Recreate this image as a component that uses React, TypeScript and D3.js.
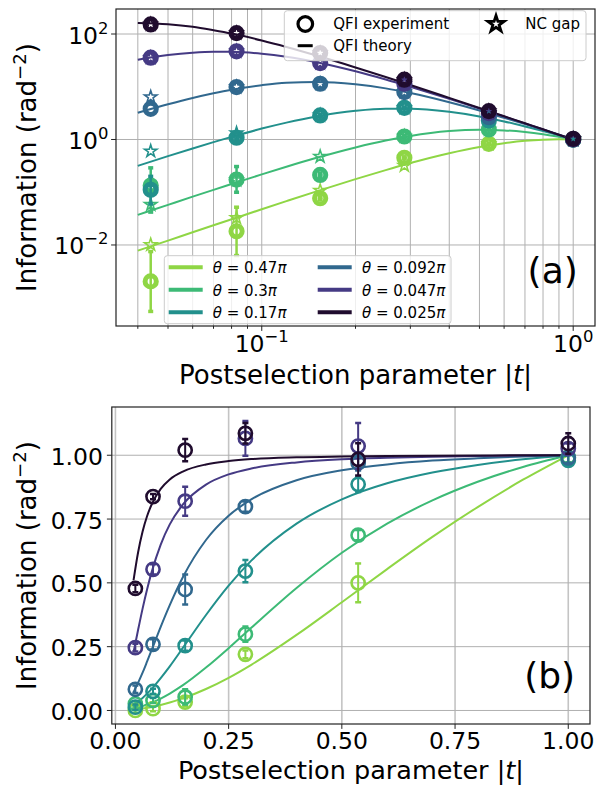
import React from 'react';
import * as d3 from 'd3';

const FONT = 'DejaVu Sans';

// theta values (in units of pi) and colours, light to dark
const thetaLabels = ['0.47', '0.3', '0.17', '0.092', '0.047', '0.025'];
const seriesColors = ['#8fd645', '#3dba76', '#22908c', '#31688e', '#453a84', '#200c2e'];

// postselection parameter |t|
const tTheory = [0.04, 0.05, 0.06, 0.07, 0.08, 0.1, 0.12, 0.15, 0.2, 0.25, 0.3, 0.4, 0.5, 0.6, 0.7, 0.8, 0.9, 1.0];
const tExp = [0.044, 0.083, 0.154, 0.287, 0.536, 1.0];

// panel (a): QFI theory, log scale
const topTheory047 = [0.0078, 0.0121, 0.0174, 0.0236, 0.0307, 0.0476, 0.0678, 0.104, 0.177, 0.263, 0.357, 0.548, 0.719, 0.852, 0.943, 0.992, 1.009, 1.0];
const topTheory030 = [0.0372, 0.0577, 0.0825, 0.111, 0.143, 0.218, 0.304, 0.449, 0.707, 0.956, 1.168, 1.442, 1.527, 1.488, 1.384, 1.255, 1.123, 1.0];
const topTheory017 = [0.316, 0.483, 0.676, 0.89, 1.12, 1.61, 2.09, 2.74, 3.5, 3.83, 3.83, 3.35, 2.74, 2.2, 1.77, 1.45, 1.2, 1.0];
const topTheory0092 = [3.22, 4.65, 6.12, 7.51, 8.78, 10.7, 11.9, 12.3, 11.1, 9.31, 7.59, 5.08, 3.55, 2.58, 1.96, 1.53, 1.22, 1.0];
const topTheory0047 = [32.4, 39.8, 44.2, 46.1, 45.9, 42.2, 36.9, 29.1, 19.6, 13.7, 9.98, 5.91, 3.87, 2.72, 2.02, 1.55, 1.23, 1.0];
const topTheory0025 = [162, 153, 137, 118, 102, 75.3, 56.8, 39.0, 23.2, 15.3, 10.8, 6.15, 3.96, 2.76, 2.03, 1.56, 1.23, 1.0];

// panel (a): QFI experiment
const topExp047 = [0.00204, 0.0182, 0.0769, 0.449, 0.828, 1.0];
const topExp030 = [0.134, 0.174, 0.213, 1.14, 1.55, 1.0];
const topExp017 = [0.111, 1.08, 2.86, 3.99, 2.3, 1.0];
const topExp0092 = [3.82, 9.86, 11.4, 7.92, 2.65, 1.0];
const topExp0047 = [35.5, 46.9, 28.1, 11.4, 3.16, 1.0];
const topExp0025 = [152, 104, 43.6, 13.6, 3.45, 1.03];

// panel (a): error bar ends (low / high)
const topLo047 = [0.00055, 0.0063, 0.072, 0.43, 0.8, 0.97];
const topHi047 = [0.0075, 0.052, 0.082, 0.47, 0.86, 1.03];
const topLo030 = [0.042, 0.1, 0.2, 1.1, 1.5, 0.97];
const topHi030 = [0.29, 0.307, 0.226, 1.18, 1.6, 1.03];
const topLo017 = [0.06, 1.0, 2.75, 3.85, 2.22, 0.97];
const topHi017 = [0.2, 1.16, 2.97, 4.13, 2.38, 1.03];

// panel (a): NC gap
const gap047 = [0.0101, 0.0326, 0.108, 0.321, 0.828, 1.0];
const gap030 = [0.0583, 0.17, 0.475, 1.14, 1.55, 1.0];
const gap017 = [0.6, 1.32, 2.86, 3.99, 2.3, 1.0];
const gap0092 = [6.37, 9.86, 11.4, 7.92, 2.65, 1.0];
const gap0047 = [35.5, 46.9, 28.1, 11.4, 3.16, 1.0];
const gap0025 = [152, 104, 43.6, 13.6, 3.45, 1.03];

// panel (b): theory, linear scale
const botTheory047 = [0.0035, 0.0055, 0.0079, 0.0108, 0.014, 0.0218, 0.0312, 0.0484, 0.0842, 0.128, 0.179, 0.296, 0.424, 0.554, 0.68, 0.797, 0.904, 1.0];
const botTheory030 = [0.0077, 0.012, 0.0172, 0.0233, 0.0303, 0.0467, 0.0662, 0.1, 0.168, 0.244, 0.324, 0.48, 0.618, 0.732, 0.823, 0.896, 0.954, 1.0];
const botTheory017 = [0.0225, 0.0347, 0.0493, 0.066, 0.0847, 0.127, 0.173, 0.248, 0.374, 0.489, 0.587, 0.732, 0.827, 0.89, 0.932, 0.962, 0.984, 1.0];
const botTheory0092 = [0.0717, 0.108, 0.148, 0.192, 0.237, 0.328, 0.413, 0.526, 0.668, 0.763, 0.827, 0.902, 0.941, 0.964, 0.979, 0.988, 0.995, 1.0];
const botTheory0047 = [0.228, 0.315, 0.399, 0.475, 0.542, 0.65, 0.729, 0.809, 0.885, 0.925, 0.948, 0.972, 0.984, 0.99, 0.994, 0.997, 0.999, 1.0];
const botTheory0025 = [0.51, 0.619, 0.701, 0.762, 0.807, 0.868, 0.905, 0.937, 0.964, 0.977, 0.985, 0.992, 0.995, 0.997, 0.998, 0.999, 1.0, 1.0];

// panel (b): experiment and symmetric errors
const botExp047 = [0.0, 0.007, 0.033, 0.22, 0.5, 0.987];
const botExp030 = [0.026, 0.039, 0.053, 0.299, 0.687, 0.993];
const botExp017 = [0.013, 0.075, 0.254, 0.546, 0.886, 0.98];
const botExp0092 = [0.083, 0.259, 0.474, 0.799, 0.97, 0.99];
const botExp0047 = [0.246, 0.553, 0.82, 1.066, 1.036, 1.026];
const botExp0025 = [0.478, 0.838, 1.02, 1.086, 0.984, 1.046];

const botErr047 = [0.01, 0.01, 0.015, 0.015, 0.076, 0.02];
const botErr030 = [0.01, 0.01, 0.03, 0.03, 0.02, 0.02];
const botErr017 = [0.01, 0.01, 0.02, 0.044, 0.03, 0.02];
const botErr0092 = [0.015, 0.02, 0.059, 0.02, 0.03, 0.02];
const botErr0047 = [0.015, 0.02, 0.057, 0.068, 0.09, 0.02];
const botErr0025 = [0.015, 0.01, 0.044, 0.04, 0.063, 0.04];

const topTheory = [topTheory047, topTheory030, topTheory017, topTheory0092, topTheory0047, topTheory0025];
const topExp = [topExp047, topExp030, topExp017, topExp0092, topExp0047, topExp0025];
const topLo = [topLo047, topLo030, topLo017, null, null, null];
const topHi = [topHi047, topHi030, topHi017, null, null, null];
const gaps = [gap047, gap030, gap017, gap0092, gap0047, gap0025];
const botTheory = [botTheory047, botTheory030, botTheory017, botTheory0092, botTheory0047, botTheory0025];
const botExp = [botExp047, botExp030, botExp017, botExp0092, botExp0047, botExp0025];
const botErr = [botErr047, botErr030, botErr017, botErr0092, botErr0047, botErr0025];

const xTopTicks = [0.1, 1];
const xTopTickExp = ['−1', '0'];
const yTopTicks = [0.01, 1, 100];
const yTopTickExp = ['−2', '0', '2'];
const xBotTicks = [0, 0.25, 0.5, 0.75, 1.0];
const yBotTicks = [0, 0.25, 0.5, 0.75, 1.0];

// axes boxes
const A = { l: 116, r: 595, t: 9, b: 326 };
const B = { l: 111.8, r: 590, t: 407, b: 724 };

const xTop = d3.scaleLog().domain([Math.pow(10, -1.468), Math.pow(10, 0.07)]).range([A.l, A.r]);
const yTop = d3.scaleLog().domain([Math.pow(10, -3.536), Math.pow(10, 2.474)]).range([A.b, A.t]);
const xBot = d3.scaleLinear().domain([-0.008, 1.048]).range([B.l, B.r]);
const yBot = d3.scaleLinear().domain([-0.053, 1.189]).range([B.b, B.t]);

const GRID = '#b0b0b0';
const TICK = 23.5;
const LABEL = 26;

const starPath = (r: number) => d3.symbol().type(d3.symbolStar).size((r * r) / 0.8908130915)() as string;

const Pow = ({ x, y, exp, anchor }: { x: number; y: number; exp: string; anchor: string }) => (
  <text x={x} y={y} textAnchor={anchor} fontSize={TICK}>
    10<tspan dy={-10} fontSize={TICK * 0.7}>{exp}</tspan>
  </text>
);

const Theta = ({ x, y, v }: { x: number; y: number; v: string }) => (
  <text x={x} y={y} fontSize={15}>
    <tspan fontStyle="italic">θ</tspan> = {v}<tspan fontStyle="italic">π</tspan>
  </text>
);

export default function App() {
  const lineTop = d3.line<number>().x((_, i) => xTop(tTheory[i])).y(d => yTop(d)).curve(d3.curveMonotoneX);
  const lineBot = d3.line<number>().x((_, i) => xBot(tTheory[i])).y(d => yBot(d)).curve(d3.curveMonotoneX);
  const minorX = xTop.ticks();
  const smallStar = starPath(6.5);

  return (
    <svg width={599} height={785} style={{ position: 'absolute', left: 0, top: 0, background: '#fff' }} fontFamily={FONT}>
      <defs>
        <clipPath id="clipA"><rect x={A.l} y={A.t} width={A.r - A.l} height={A.b - A.t} /></clipPath>
        <clipPath id="clipB"><rect x={B.l} y={B.t} width={B.r - B.l} height={B.b - B.t} /></clipPath>
      </defs>

      {/* ---------- panel (a) ---------- */}
      <g>
        {minorX.map(v => (
          <line key={'gx' + v} x1={xTop(v)} x2={xTop(v)} y1={A.t} y2={A.b} stroke={GRID} strokeWidth={1} />
        ))}
        {yTopTicks.map(v => (
          <line key={'gy' + v} x1={A.l} x2={A.r} y1={yTop(v)} y2={yTop(v)} stroke={GRID} strokeWidth={1} />
        ))}
        <g clipPath="url(#clipA)">
          {topTheory.map((s, k) => (
            <path key={'tl' + k} d={lineTop(s) as string} fill="none" stroke={seriesColors[k]} strokeWidth={2} />
          ))}
          {topExp.map((s, k) => (
            <g key={'te' + k} stroke={seriesColors[k]} fill="none">
              {topLo[k] && s.map((_, i) => {
                const x = xTop(tExp[i]);
                const y1 = yTop(topLo[k]![i]);
                const y2 = yTop(topHi[k]![i]);
                return (
                  <g key={i} strokeWidth={2.5}>
                    <line x1={x} x2={x} y1={y1} y2={y2} />
                    <line x1={x - 2.5} x2={x + 2.5} y1={y1} y2={y1} strokeWidth={3.5} />
                    <line x1={x - 2.5} x2={x + 2.5} y1={y2} y2={y2} strokeWidth={3.5} />
                  </g>
                );
              })}
              {s.map((v, i) => (
                <circle key={'c' + i} cx={xTop(tExp[i])} cy={yTop(v)} r={5.6} strokeWidth={5} />
              ))}
              {gaps[k].map((v, i) => (
                <path key={'s' + i} d={smallStar} transform={`translate(${xTop(tExp[i])},${yTop(v)})`} strokeWidth={1.6} />
              ))}
            </g>
          ))}
        </g>

        {/* legend: markers */}
        <rect x={284.3} y={10.7} width={301.7} height={50} rx={3} fill="#fff" fillOpacity={0.8} stroke="#cccccc" strokeWidth={1} />
        <circle cx={305.3} cy={24} r={7.3} fill="none" stroke="#000" strokeWidth={3.2} />
        <text x={333.3} y={29} fontSize={15}>QFI experiment</text>
        <path d={starPath(8.5)} transform="translate(496,24)" fill="none" stroke="#000" strokeWidth={2.8} />
        <text x={525.3} y={29} fontSize={15}>NC gap</text>
        <line x1={297.7} x2={312.7} y1={45.7} y2={45.7} stroke="#000" strokeWidth={3} />
        <text x={333.3} y={51} fontSize={15}>QFI theory</text>

        {/* legend: theta */}
        <rect x={164.3} y={255.7} width={286.7} height={68} rx={3} fill="#fff" fillOpacity={0.8} stroke="#cccccc" strokeWidth={1} />
        {thetaLabels.map((lab, k) => {
          const col = k < 3 ? 0 : 1;
          const row = k % 3;
          const yb = 273 + row * 22.5;
          const lx = col === 0 ? 168.7 : 317.7;
          const tx = col === 0 ? 212.7 : 362;
          return (
            <g key={'lg' + k}>
              <line x1={lx} x2={lx + 34} y1={yb - 5.7} y2={yb - 5.7} stroke={seriesColors[k]} strokeWidth={4} />
              <Theta x={tx} y={yb} v={lab} />
            </g>
          );
        })}

        <text x={552.7} y={283} fontSize={36} textAnchor="middle">(a)</text>

        {/* axes */}
        <rect x={A.l} y={A.t} width={A.r - A.l} height={A.b - A.t} fill="none" stroke="#222" strokeWidth={1.2} />
        {minorX.map(v => (
          <line key={'mx' + v} x1={xTop(v)} x2={xTop(v)} y1={A.b} y2={A.b + (xTopTicks.includes(v) ? 4.9 : 2.8)} stroke="#222" strokeWidth={1} />
        ))}
        {xTopTicks.map((v, i) => (
          <Pow key={'xl' + v} x={xTop(v)} y={352} exp={xTopTickExp[i]} anchor="middle" />
        ))}
        {yTopTicks.map((v, i) => (
          <g key={'yl' + v}>
            <line x1={A.l - 4.9} x2={A.l} y1={yTop(v)} y2={yTop(v)} stroke="#222" strokeWidth={1} />
            <Pow x={108.5} y={yTop(v) + 9.5} exp={yTopTickExp[i]} anchor="end" />
          </g>
        ))}
        <text x={(A.l + A.r) / 2} y={384} fontSize={LABEL} textAnchor="middle">
          Postselection parameter |<tspan fontStyle="italic">t</tspan>|
        </text>
        <text transform={`translate(36,${(A.t + A.b) / 2}) rotate(-90)`} fontSize={LABEL} textAnchor="middle">
          Information (rad<tspan dy={-10} fontSize={LABEL * 0.7}>−2</tspan><tspan dy={10}>)</tspan>
        </text>
      </g>

      {/* ---------- panel (b) ---------- */}
      <g>
        {xBotTicks.map(v => (
          <line key={'bgx' + v} x1={xBot(v)} x2={xBot(v)} y1={B.t} y2={B.b} stroke="#c4c4c4" strokeWidth={1.6} />
        ))}
        {yBotTicks.map(v => (
          <line key={'bgy' + v} x1={B.l} x2={B.r} y1={yBot(v)} y2={yBot(v)} stroke={GRID} strokeWidth={1} />
        ))}
        <g clipPath="url(#clipB)">
          {botTheory.map((s, k) => (
            <path key={'bl' + k} d={lineBot(s) as string} fill="none" stroke={seriesColors[k]} strokeWidth={2} />
          ))}
          {botExp.map((s, k) => (
            <g key={'be' + k} stroke={seriesColors[k]} fill="none">
              {s.map((v, i) => {
                const x = xBot(tExp[i]);
                const y1 = yBot(v - botErr[k][i]);
                const y2 = yBot(v + botErr[k][i]);
                return (
                  <g key={i} strokeWidth={2}>
                    <line x1={x} x2={x} y1={y1} y2={y2} />
                    <line x1={x - 3} x2={x + 3} y1={y1} y2={y1} strokeWidth={2.5} />
                    <line x1={x - 3} x2={x + 3} y1={y2} y2={y2} strokeWidth={2.5} />
                    <circle cx={x} cy={yBot(v)} r={6.6} strokeWidth={2.6} />
                  </g>
                );
              })}
            </g>
          ))}
        </g>

        <text x={549.7} y={688} fontSize={36} textAnchor="middle">(b)</text>

        <rect x={B.l} y={B.t} width={B.r - B.l} height={B.b - B.t} fill="none" stroke="#222" strokeWidth={1.2} />
        {xBotTicks.map(v => (
          <g key={'bxl' + v}>
            <line x1={xBot(v)} x2={xBot(v)} y1={B.b} y2={B.b + 4.9} stroke="#222" strokeWidth={1} />
            <text x={xBot(v)} y={749} fontSize={TICK} textAnchor="middle">{d3.format('.2f')(v)}</text>
          </g>
        ))}
        {yBotTicks.map(v => (
          <g key={'byl' + v}>
            <line x1={B.l - 4.9} x2={B.l} y1={yBot(v)} y2={yBot(v)} stroke="#222" strokeWidth={1} />
            <text x={103} y={yBot(v) + 9.5} fontSize={TICK} textAnchor="end">{d3.format('.2f')(v)}</text>
          </g>
        ))}
        <text x={(B.l + B.r) / 2} y={779} fontSize={25.5} textAnchor="middle">
          Postselection parameter |<tspan fontStyle="italic">t</tspan>|
        </text>
        <text transform={`translate(36,${(B.t + B.b) / 2}) rotate(-90)`} fontSize={LABEL} textAnchor="middle">
          Information (rad<tspan dy={-10} fontSize={LABEL * 0.7}>−2</tspan><tspan dy={10}>)</tspan>
        </text>
      </g>
    </svg>
  );
}
